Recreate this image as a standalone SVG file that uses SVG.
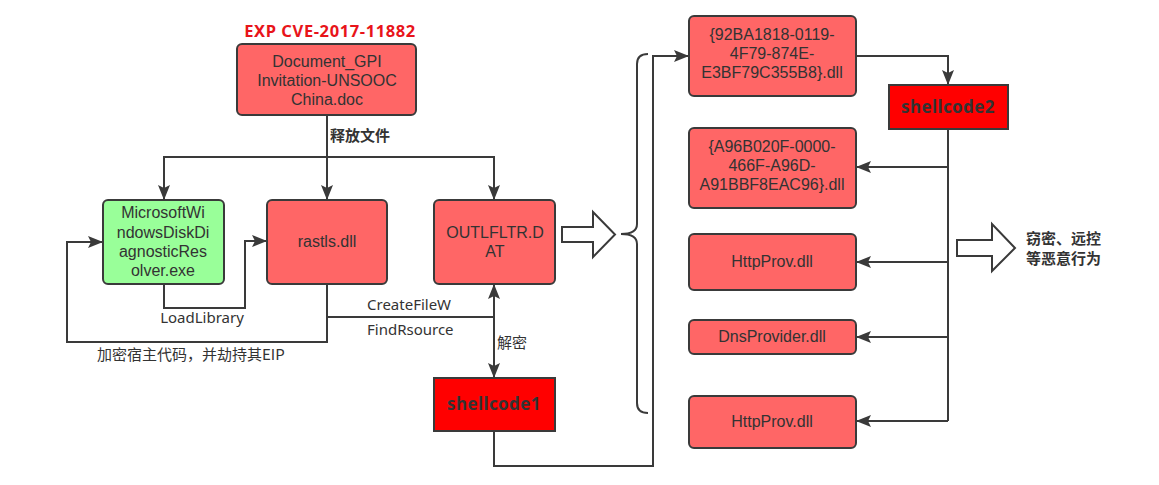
<svg xmlns="http://www.w3.org/2000/svg" width="1159" height="485" viewBox="0 0 1159 485">
<style>
.node{fill:#ff6666;stroke:#3a3a3a;stroke-width:2}
.green{fill:#99ff99;stroke:#3a3a3a;stroke-width:2}
.sc{fill:#ff0000;stroke:#3a3a3a;stroke-width:2}
.t{font-family:"Liberation Sans","Noto Sans CJK SC",sans-serif;font-size:16px;fill:#333;text-anchor:middle}
.b{font-weight:bold}
.scl{font-family:"Noto Sans",sans-serif;font-size:17px;letter-spacing:0.4px}
.lbl{font-family:"Noto Sans","Noto Sans CJK SC",sans-serif;font-size:15px;fill:#333}
.cn{font-family:"Noto Sans CJK SC",sans-serif;font-size:15px;fill:#333}
.ln{fill:none;stroke:#3a3a3a;stroke-width:2}
.big{fill:#fff;stroke:#3a3a3a;stroke-width:2}
</style>
<defs>
<marker id="ah" markerUnits="userSpaceOnUse" markerWidth="16" markerHeight="12" refX="15" refY="6" orient="auto">
<path d="M0,0 L15,6 L0,12 L3,6 Z" fill="#3a3a3a"/>
</marker>
</defs>
<rect width="1159" height="485" fill="#fff"/>

<g id="connectors">
<path class="ln" d="M327,115 L327,200" marker-end="url(#ah)"/>
<path class="ln" d="M327,157 L164,157 L164,200" marker-end="url(#ah)"/>
<path class="ln" d="M327,157 L494,157 L494,200" marker-end="url(#ah)"/>
<path class="ln" d="M164,284 L164,308 L245,308 L245,241 L267,241" marker-end="url(#ah)"/>
<path class="ln" d="M327,284 L327,342 L67,342 L67,242 L103,242" marker-end="url(#ah)"/>
<path class="ln" d="M327,317 L494,317"/>
<path class="ln" d="M494,317 L494,284" marker-end="url(#ah)"/>
<path class="ln" d="M494,317 L494,378" marker-end="url(#ah)"/>
<path class="ln" d="M494,431 L494,466 L653,466 L653,56 L689,56" marker-end="url(#ah)"/>
<path class="ln" d="M856,56 L948,56 L948,85" marker-end="url(#ah)"/>
<path class="ln" d="M948,129 L948,421"/>
<path class="ln" d="M948,167 L856,167" marker-end="url(#ah)"/>
<path class="ln" d="M948,262 L856,262" marker-end="url(#ah)"/>
<path class="ln" d="M948,337 L856,337" marker-end="url(#ah)"/>
<path class="ln" d="M948,421 L856,421" marker-end="url(#ah)"/>
<path class="ln" d="M648,54 Q637,54 637,64 L637,224 Q637,234 621,234 Q637,234 637,244 L637,403 Q637,413 648,413"/>
<polygon class="big" points="562,227 593,227 593,212 615,234.5 593,257 593,242 562,242"/>
<polygon class="big" points="957,240 992,240 992,224 1015,248 992,271 992,256 957,256"/>
<text class="cn b" x="330" y="141">释放文件</text>
<text class="lbl" x="202" y="323" text-anchor="middle">LoadLibrary</text>
<text class="lbl" x="367" y="310">CreateFileW</text>
<text class="lbl" x="367" y="335">FindRsource</text>
<text class="cn" x="97" y="360">加密宿主代码，并劫持其EIP</text>
<text class="cn" x="497" y="348">解密</text>
<text class="cn b" x="1026" y="244">窃密、远控</text>
<text class="cn b" x="1026" y="264">等恶意行为</text>
</g>

<g id="title">
<text class="t b" x="330" y="37" style="font-family:'Noto Sans',sans-serif;fill:#e8141a;font-size:16.5px;letter-spacing:0.6px">EXP CVE-2017-11882</text>
</g>

<g id="doc">
<rect class="node" x="237" y="44" width="179" height="71" rx="5"/>
<text class="t" x="327" y="67">Document_GPI</text>
<text class="t" x="327" y="86">Invitation-UNSOOC</text>
<text class="t" x="327" y="105">China.doc</text>
</g>

<g id="msdiag">
<rect class="green" x="103" y="200" width="121" height="84" rx="5"/>
<text class="t" x="163" y="218">MicrosoftWi</text>
<text class="t" x="163" y="238">ndowsDiskDi</text>
<text class="t" x="163" y="257">agnosticRes</text>
<text class="t" x="163" y="276">olver.exe</text>
</g>

<g id="rastls">
<rect class="node" x="267" y="200" width="120" height="84" rx="5"/>
<text class="t" x="327" y="247">rastls.dll</text>
</g>

<g id="outlfltr">
<rect class="node" x="434" y="200" width="121" height="84" rx="5"/>
<text class="t" x="495" y="238">OUTLFLTR.D</text>
<text class="t" x="495" y="257">AT</text>
</g>

<g id="shellcode1">
<rect class="sc" x="434" y="378" width="121" height="53"/>
<text class="t b scl" x="494" y="410">shellcode1</text>
</g>

<g id="dll92ba">
<rect class="node" x="689" y="16" width="167" height="80" rx="5"/>
<text class="t" x="772" y="40">{92BA1818-0119-</text>
<text class="t" x="772" y="59">4F79-874E-</text>
<text class="t" x="772" y="78">E3BF79C355B8}.dll</text>
</g>

<g id="shellcode2">
<rect class="sc" x="889" y="85" width="119" height="44"/>
<text class="t b scl" x="948" y="113">shellcode2</text>
</g>

<g id="dlla96b">
<rect class="node" x="689" y="128" width="167" height="80" rx="5"/>
<text class="t" x="772" y="152">{A96B020F-0000-</text>
<text class="t" x="772" y="171">466F-A96D-</text>
<text class="t" x="772" y="190">A91BBF8EAC96}.dll</text>
</g>

<g id="httpprov1">
<rect class="node" x="689" y="234" width="167" height="56" rx="5"/>
<text class="t" x="772" y="267">HttpProv.dll</text>
</g>

<g id="dnsprovider">
<rect class="node" x="689" y="320" width="167" height="34" rx="5"/>
<text class="t" x="772" y="342">DnsProvider.dll</text>
</g>

<g id="httpprov2">
<rect class="node" x="689" y="396" width="167" height="52" rx="5"/>
<text class="t" x="772" y="427">HttpProv.dll</text>
</g>
</svg>
